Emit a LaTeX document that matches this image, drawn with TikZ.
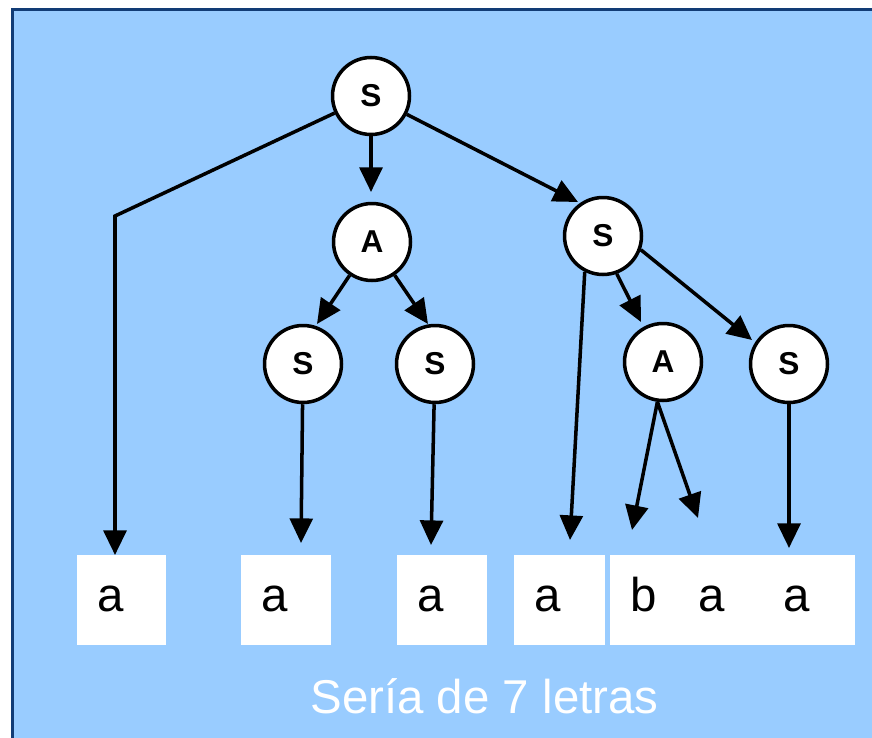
\documentclass[tikz,border=0pt]{standalone}
\usepackage{fontspec}
\setmainfont{Liberation Sans}
\usepackage{tikz}
\usetikzlibrary{arrows.meta}
\definecolor{skyblue}{RGB}{153,204,255}
\definecolor{navy}{RGB}{18,60,118}
\tikzset{
  frame/.style={fill=skyblue, draw=navy, line width=2pt},
  sym/.style={circle, draw=black, fill=white, line width=2pt,
    minimum size=1.54cm, inner sep=0pt,
    font=\fontsize{18}{21}\selectfont\bfseries},
  cell/.style={rectangle, fill=white, anchor=north west,
    minimum height=1.8cm, inner xsep=0.4cm, inner ysep=0pt,
    text height=0.44cm, text depth=0pt, align=left,
    font=\fontsize{27}{32}\selectfont},
  arrow/.style={-{Triangle[length=14pt, width=13pt]}, line width=2pt, color=black},
  caption/.style={anchor=base, text=white, font=\fontsize{27}{32}\selectfont}
}

\begin{document}
\begin{tikzpicture}[x=0.02cm, y=-0.02cm]
  \useasboundingbox (0,0) rectangle (872,737);
  \clip (0,0) rectangle (872,737);
  \draw[frame] (12.5,9.5) rectangle (890,760);

  % derivation tree
  \node[sym] (s0) at (371,96) {S};
  \node[sym] (a1) at (372,242) {A};
  \node[sym] (s2) at (603,236) {S};
  \node[sym] (s3) at (303,364) {S};
  \node[sym] (s4) at (435,364) {S};
  \node[sym] (a5) at (663,362) {A};
  \node[sym] (s6) at (789,364) {S};

  % the word, letter by letter
  \node[cell, text width=0.98cm] (w1) at (77,555) {a};
  \node[cell, text width=1.0cm] (w2) at (241,555) {a};
  \node[cell, text width=1.0cm] (w3) at (397,555) {a};
  \node[cell, text width=1.02cm] (w4) at (514,555) {a};
  \node[cell, text width=4.1cm] (w5) at (610,555) {b\hspace{0.84cm}a\hspace{1.16cm}a};

  \node[caption] (cap) at (484.5,713) {Sería de 7 letras};

  % arrow ends
  \coordinate (bend) at (115,216);
  \coordinate (tipA1) at (371,192);
  \coordinate (tipS2) at (578,202);
  \coordinate (tipS3) at (317,324);
  \coordinate (tipS4) at (428,324);
  \coordinate (tipW2) at (301,543);
  \coordinate (tipW3) at (431,545);
  \coordinate (tipW4) at (570,540);
  \coordinate (tipA5) at (641,322);
  \coordinate (tipS6) at (752,340);
  \coordinate (tipB) at (632,530);
  \coordinate (tipA) at (698,518);
  \coordinate (tipW5) at (789,548);

  \draw[arrow] (s0) -- (bend) -- (bend |- w1.north);
  \draw[arrow] (s0) -- (tipA1);
  \draw[arrow] (s0) -- (tipS2);
  \draw[arrow] (a1) -- (tipS3);
  \draw[arrow] (a1) -- (tipS4);
  \draw[arrow] (s3) -- (tipW2);
  \draw[arrow] (s4) -- (tipW3);
  \draw[arrow] (s2.243) -- (tipW4);
  \draw[arrow] (s2.290) -- (tipA5);
  \draw[arrow] (s2.-20) -- (tipS6);
  \draw[arrow] (a5.262) -- (tipB);
  \draw[arrow] (a5.262) -- (tipA);
  \draw[arrow] (s6) -- (tipW5);
\end{tikzpicture}
\end{document}
